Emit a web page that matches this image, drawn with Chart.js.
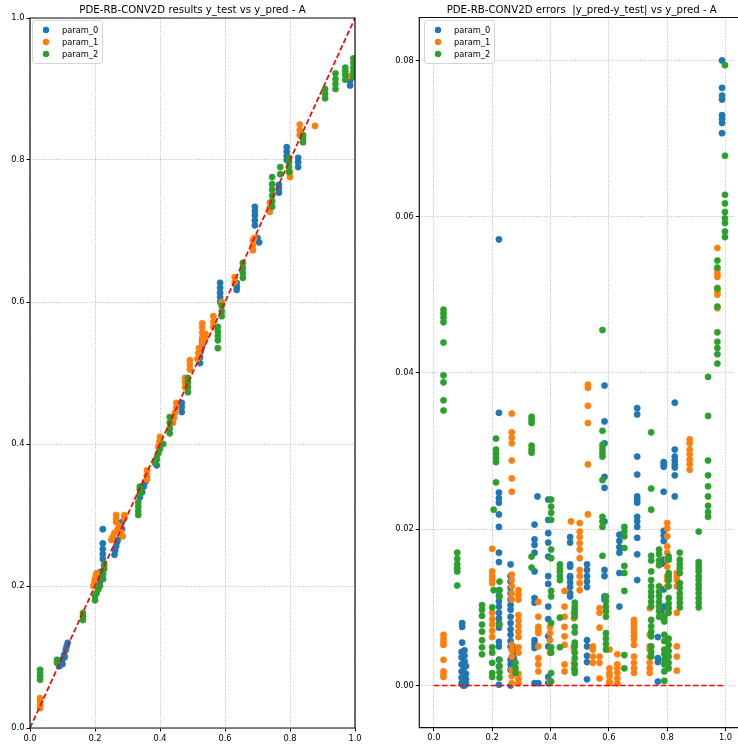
<!DOCTYPE html>
<html><head><meta charset="utf-8">
<script src="https://cdn.jsdelivr.net/npm/chart.js@4.4.0/dist/chart.umd.min.js"></script>
<style>
html,body{margin:0;padding:0;background:#fff;overflow:hidden;}
#w{position:relative;width:738px;height:747px;}
canvas{position:absolute;top:0;}
#c1{left:0;} #c2{left:369px;}
</style></head><body>
<div id="w"><canvas id="c1" width="369" height="747"></canvas><canvas id="c2" width="369" height="747"></canvas></div>
<script>
const seriesNames = ['param_0', 'param_1', 'param_2'];
const seriesColors = ['#1f77b4', '#ff7f0e', '#2ca02c'];
const titleLeft = 'PDE-RB-CONV2D results y_test vs y_pred - A';
const titleRight = 'PDE-RB-CONV2D errors  |y_pred-y_test| vs y_pred - A';
const unitTicks = [0, 0.2, 0.4, 0.6, 0.8, 1.0];
const errTicks = [0, 0.02, 0.04, 0.06, 0.08];
const identityLine = [[0, 0], [1, 1]];
const zeroLine = [[0, 0], [1, 0]];

// Left panel: [x, y] pairs
const pred0 = [[0.09,0.087],[0.095,0.092],[0.1,0.097],[0.105,0.103],[0.11,0.11],[0.113,0.115],[0.116,0.12],[0.1,0.09],[0.107,0.1],
 [0.215,0.205],[0.215,0.212],[0.218,0.22],[0.224,0.28],[0.224,0.26],[0.224,0.252],[0.224,0.245],[0.224,0.238],
 [0.26,0.244],[0.262,0.25],[0.265,0.256],[0.268,0.262],[0.27,0.265],[0.283,0.28],[0.283,0.29],
 [0.338,0.325],[0.345,0.332],[0.35,0.34],[0.355,0.347],[0.36,0.354],[0.39,0.37],[0.39,0.378],
 [0.467,0.445],[0.467,0.452],[0.467,0.458],[0.523,0.514],[0.523,0.522],[0.525,0.53],[0.53,0.538],[0.53,0.545],
 [0.585,0.6],[0.585,0.607],[0.585,0.613],[0.585,0.62],[0.585,0.627],[0.636,0.617],[0.636,0.622],[0.636,0.627],
 [0.692,0.708],[0.692,0.715],[0.692,0.722],[0.692,0.728],[0.692,0.734],[0.705,0.684],[0.7,0.69],
 [0.766,0.754],[0.766,0.76],[0.766,0.765],[0.79,0.8],[0.79,0.806],[0.79,0.812],[0.79,0.818],
 [0.825,0.79],[0.825,0.797],[0.825,0.803],[0.985,0.905],[0.985,0.912],[0.985,0.918]];
const pred1 = [[0.031,0.028],[0.031,0.033],[0.031,0.038],[0.031,0.042],
 [0.195,0.2],[0.198,0.205],[0.2,0.21],[0.203,0.215],[0.205,0.218],
 [0.25,0.265],[0.255,0.27],[0.26,0.275],[0.265,0.29],[0.265,0.295],[0.265,0.3],[0.27,0.28],[0.275,0.285],[0.28,0.276],[0.285,0.27],[0.29,0.3],[0.29,0.295],
 [0.36,0.35],[0.36,0.356],[0.36,0.363],[0.395,0.396],[0.398,0.403],[0.4,0.41],
 [0.44,0.43],[0.443,0.437],[0.446,0.444],[0.45,0.451],[0.45,0.458],[0.477,0.48],[0.477,0.487],[0.477,0.493],
 [0.492,0.505],[0.492,0.512],[0.492,0.518],[0.515,0.52],[0.518,0.528],[0.52,0.535],
 [0.53,0.542],[0.53,0.55],[0.53,0.557],[0.53,0.564],[0.53,0.57],[0.54,0.55],[0.54,0.555],
 [0.564,0.565],[0.564,0.572],[0.564,0.58],[0.59,0.595],[0.59,0.6],[0.63,0.628],[0.63,0.635],
 [0.686,0.673],[0.686,0.68],[0.686,0.687],[0.69,0.69],[0.738,0.727],[0.738,0.733],[0.738,0.74],
 [0.8,0.776],[0.8,0.783],[0.83,0.835],[0.83,0.842],[0.83,0.85],[0.877,0.848],[0.98,0.918]];
const pred2 = [[0.031,0.068],[0.031,0.073],[0.031,0.078],[0.031,0.082],[0.083,0.092],[0.083,0.096],
 [0.163,0.152],[0.163,0.157],[0.163,0.162],[0.2,0.18],[0.2,0.186],[0.205,0.19],[0.21,0.195],[0.215,0.2],
 [0.225,0.21],[0.225,0.217],[0.228,0.224],[0.228,0.23],[0.333,0.3],[0.333,0.306],[0.333,0.312],[0.333,0.318],
 [0.338,0.33],[0.338,0.336],[0.338,0.34],[0.385,0.373],[0.39,0.38],[0.395,0.387],[0.4,0.393],[0.41,0.4],
 [0.43,0.415],[0.43,0.422],[0.43,0.43],[0.43,0.438],[0.486,0.473],[0.486,0.48],[0.486,0.487],[0.486,0.493],
 [0.578,0.546],[0.578,0.552],[0.578,0.558],[0.578,0.565],[0.578,0.535],[0.59,0.58],[0.59,0.587],[0.59,0.595],
 [0.655,0.634],[0.655,0.641],[0.655,0.648],[0.655,0.655],
 [0.745,0.734],[0.745,0.742],[0.745,0.75],[0.745,0.758],[0.745,0.766],[0.745,0.776],[0.77,0.78],[0.77,0.79],
 [0.797,0.783],[0.797,0.79],[0.797,0.797],[0.797,0.803],[0.84,0.825],[0.84,0.83],[0.84,0.835],
 [0.908,0.887],[0.908,0.893],[0.908,0.9],[0.94,0.9],[0.94,0.907],[0.94,0.914],[0.94,0.922],
 [0.97,0.913],[0.97,0.92],[0.97,0.925],[0.97,0.93],[0.995,0.917],[0.995,0.924],[0.995,0.93],[0.995,0.937],[0.995,0.943]];

// Right panel: [x, [errors...]] columns
const err0 = [
 [0.097,[0.008,0.0075,0.0055]],
 [0.095,[0.0043,0.0036,0.0027,0.0018,0.001,0.0003]],
 [0.105,[0.0045,0.0038,0.0031,0.0023,0.0014,0.0006,0.0]],
 [0.11,[0.0025,0.0015,0.0008,0.0002]],
 [0.1,[0.0012,0.0004,0.0]],
 [0.223,[0.0571,0.0349,0.0247,0.024,0.0234,0.0219,0.0203,0.017,0.0158,0.0122,0.0115,0.0108,0.0101,0.0093,0.0086,0.008,0.0074,0.0056,0.005,0.0033,0.0024,0.0001]],
 [0.263,[0.0155,0.014,0.0133,0.0125,0.0118,0.011,0.0103,0.0097,0.0088,0.008,0.0072,0.0065,0.0057,0.005,0.0033,0.0027,0.002,0.0]],
 [0.274,[0.0049,0.0042,0.0035,0.0025]],
 [0.345,[0.0206,0.0187,0.018,0.017,0.0146,0.0112,0.0106,0.0058,0.0053,0.0048,0.0003]],
 [0.355,[0.0242]],
 [0.358,[0.0003]],
 [0.392,[0.0238,0.0212,0.0195,0.0183,0.0165,0.014,0.013,0.0101,0.0085,0.0063,0.005,0.0011,0.0003]],
 [0.467,[0.019,0.0183,0.0155,0.0152,0.014,0.0138,0.0132,0.0126,0.0118,0.0114]],
 [0.525,[0.0155,0.0148,0.014,0.0133,0.0126,0.0058,0.005,0.0038,0.003,0.0008]],
 [0.585,[0.0384,0.0338,0.031,0.0267,0.0253,0.021,0.0148,0.014,0.0114,0.011]],
 [0.636,[0.0193,0.0185,0.0177,0.017,0.0144,0.0101]],
 [0.697,[0.0355,0.0347,0.0293,0.027,0.0242,0.0238,0.0234,0.0216,0.021,0.0203,0.0189,0.0168,0.0135]],
 [0.768,[0.0062,0.0035,0.003,0.0005]],
 [0.788,[0.0286,0.0283,0.028,0.0248,0.0198,0.0192,0.0185,0.0161,0.0156,0.0123,0.0101,0.0095,0.0085]],
 [0.826,[0.0362,0.0302,0.0293,0.0288,0.0283,0.0279,0.0269,0.0242]],
 [0.988,[0.08,0.0765,0.0755,0.075,0.073,0.0725,0.072,0.0707]]
];
const err1 = [
 [0.033,[0.0065,0.006,0.0056,0.0052,0.0033,0.0018,0.0014,0.0011]],
 [0.2,[0.0175,0.0146,0.014,0.0135,0.0131,0.0093,0.0085,0.0078,0.007,0.0062]],
 [0.267,[0.0348,0.0324,0.0317,0.031,0.0288,0.0265,0.0248,0.0142,0.0135,0.0127,0.0118,0.011,0.0052,0.0045,0.0037,0.002,0.0012,0.0003]],
 [0.29,[0.0122,0.0116,0.011,0.009,0.0083,0.0076,0.0069,0.0062,0.0049,0.0042,0.0015,0.0008,0.0003]],
 [0.358,[0.0107,0.0088,0.0075,0.0071,0.0067,0.005,0.0035,0.0027,0.0018]],
 [0.398,[0.0075,0.0067,0.0058,0.0042,0.0005]],
 [0.448,[0.0121,0.0101,0.0088,0.0075,0.0063,0.0052,0.0027,0.0018]],
 [0.47,[0.021]],
 [0.48,[0.0093,0.0086,0.005,0.0046,0.0029,0.0022]],
 [0.5,[0.0208,0.0197,0.019,0.0182,0.0174,0.0163,0.0148,0.014,0.0131,0.0122]],
 [0.528,[0.0385,0.0381,0.0358,0.0336,0.0283,0.0219]],
 [0.545,[0.005,0.0046,0.0037,0.0029]],
 [0.568,[0.0099,0.0093,0.0074,0.0037,0.0029,0.0009]],
 [0.602,[0.0046,0.0022,0.0016,0.0012,0.0005,0.0003]],
 [0.629,[0.004,0.0027,0.0022,0.0016,0.0009,0.0003]],
 [0.686,[0.0084,0.008,0.0076,0.0072,0.0068,0.0063,0.0059,0.0052,0.0037,0.0029,0.0022,0.0016]],
 [0.74,[0.0099,0.0065,0.005,0.0046,0.0037,0.0029,0.0022,0.0016]],
 [0.8,[0.0208,0.0201,0.0191,0.0178,0.017,0.0161,0.0152,0.014,0.0135,0.0127,0.0093]],
 [0.833,[0.0144,0.014,0.0135,0.0127,0.0093,0.005,0.0037,0.0019]],
 [0.877,[0.0315,0.031,0.0302,0.0296,0.0289,0.0283,0.0276]],
 [0.972,[0.056,0.0532,0.0527,0.0523,0.0509,0.0504,0.05,0.0483]]
];
const err2 = [
 [0.033,[0.0481,0.0476,0.0471,0.0465,0.0439,0.0397,0.0388,0.0365,0.0352]],
 [0.08,[0.017,0.0162,0.0155,0.015,0.0146,0.0128]],
 [0.165,[0.0103,0.0097,0.0089,0.0078,0.0069,0.0058,0.0049,0.004]],
 [0.2,[0.01,0.0049,0.0042,0.0029,0.0016,0.0011]],
 [0.205,[0.0225,0.0122]],
 [0.213,[0.0316,0.0302,0.0297,0.0291,0.0286,0.026]],
 [0.225,[0.0133,0.0122,0.0114,0.0078,0.0033,0.0025,0.0017,0.001]],
 [0.28,[0.0029,0.0022,0.0016]],
 [0.335,[0.0344,0.034,0.0336,0.0307,0.0302,0.0298,0.0165,0.0151]],
 [0.402,[0.0238,0.0229,0.0221,0.0212,0.0174,0.0163,0.0121,0.0114,0.008,0.0049,0.0042,0.0016,0.0005]],
 [0.432,[0.0155,0.015,0.0146,0.014,0.0135,0.0087,0.0049]],
 [0.483,[0.0106,0.0101,0.0097,0.0092,0.0088,0.0075,0.0068,0.0055,0.005,0.0042,0.0035,0.0027,0.002,0.0016]],
 [0.578,[0.0455,0.0326,0.0308,0.0303,0.0298,0.0293,0.0263,0.0216,0.021,0.0203,0.0166]],
 [0.59,[0.0114,0.0108,0.0101,0.0095,0.0088,0.0067,0.006,0.0053,0.0046]],
 [0.653,[0.0203,0.0197,0.0191,0.0176,0.0153,0.0144,0.0121,0.0039,0.0022]],
 [0.745,[0.0324,0.0252,0.0225,0.0166,0.016,0.0146,0.0135,0.0127,0.012,0.0114,0.0107,0.0101,0.0084,0.0076,0.0069,0.0063,0.005,0.0043,0.0037]],
 [0.772,[0.0174,0.0168,0.016,0.0154,0.0127,0.012,0.0114,0.0107,0.0101,0.0095,0.0088]],
 [0.79,[0.0088,0.0082,0.0065,0.0057,0.0046,0.004,0.0033,0.0027,0.0018,0.0006]],
 [0.805,[0.0165,0.0161,0.0144,0.014,0.0135,0.0127,0.0112,0.0105,0.0099,0.0093,0.006,0.0052,0.0044,0.0037,0.0029,0.0022]],
 [0.843,[0.017,0.0161,0.0155,0.015,0.0144,0.0131,0.0125,0.0118,0.0112,0.0106,0.01]],
 [0.908,[0.0197,0.0158,0.0154,0.015,0.0146,0.014,0.0135,0.0129,0.0124,0.0118,0.0112,0.0106,0.01]],
 [0.94,[0.0395,0.0345,0.0288,0.0269,0.0255,0.0242,0.023,0.0222,0.0216]],
 [0.972,[0.0544,0.0535,0.0508,0.0485,0.0452,0.044,0.0432,0.0424,0.0412]],
 [0.998,[0.0794,0.0678,0.0628,0.0617,0.0606,0.0598,0.0592,0.0581,0.0574]]
];

const pairs = a => a.map(([x, y]) => ({x, y}));
const cols = c => c.flatMap(([x, ys]) => ys.map(y => ({x, y})));

const FONT = '"DejaVu Sans", sans-serif';

const decor = {
  id: 'decor',
  afterDatasetsDraw(chart, args, o) {
    const {ctx, chartArea: a} = chart;
    ctx.save();
    ctx.strokeStyle = '#111';
    ctx.lineWidth = 1.2;
    ctx.beginPath();
    if (o.full) {
      ctx.rect(a.left, a.top, a.right - a.left, a.bottom - a.top);
    } else {
      ctx.moveTo(a.right + 5, a.top); ctx.lineTo(a.left, a.top);
      ctx.lineTo(a.left, a.bottom); ctx.lineTo(a.right + 5, a.bottom);
    }
    ctx.stroke();
    ctx.restore();
  },
  afterDraw(chart, args, o) {
    const ctx = chart.ctx;
    ctx.save();
    ctx.fillStyle = '#000';
    ctx.font = '10.2px ' + FONT;
    ctx.textAlign = 'center';
    ctx.textBaseline = 'middle';
    ctx.fillText(o.title, o.titleX, 10);
    // legend
    const lx = o.legendX, ly = 20, lw = 70, lh = 43;
    ctx.beginPath();
    ctx.roundRect(lx + 0.5, ly + 0.5, lw, lh, 2.5);
    ctx.fillStyle = 'rgba(255,255,255,0.8)';
    ctx.fill();
    ctx.strokeStyle = '#cccccc';
    ctx.lineWidth = 0.8;
    ctx.stroke();
    ctx.font = '8.3px ' + FONT;
    ctx.textAlign = 'left';
    for (let i = 0; i < seriesNames.length; i++) {
      const yy = ly + 10 + i * 12;
      ctx.beginPath();
      ctx.arc(lx + 14, yy, 3.2, 0, Math.PI * 2);
      ctx.fillStyle = seriesColors[i];
      ctx.fill();
      ctx.fillStyle = '#000';
      ctx.fillText(seriesNames[i], lx + 30, yy + 0.5);
    }
    ctx.restore();
  }
};

function scatterSets(d0, d1, d2, line) {
  const ds = [d0, d1, d2].map((d, i) => ({
    label: seriesNames[i], data: d,
    backgroundColor: seriesColors[i], borderColor: seriesColors[i],
    pointRadius: 3.1, pointBorderWidth: 0.6, pointHoverRadius: 3.1,
    order: 3 - i
  }));
  ds.push({
    label: 'ref', type: 'line', data: line, showLine: true,
    borderColor: '#ff0000', borderWidth: 1.7, borderDash: [5.5, 2.6],
    pointRadius: 0, fill: false, order: 0
  });
  return ds;
}

function axis(min, max, ticks, digits, fixSize, isX) {
  return {
    type: 'linear', min, max,
    afterBuildTicks: s => { s.ticks = ticks.map(v => ({value: v})); },
    afterFit: s => {
      if (isX) s.height = fixSize; else s.width = fixSize;
      s.paddingLeft = s.paddingRight = s.paddingTop = s.paddingBottom = 0;
    },
    ticks: {
      callback: v => Number(v).toFixed(digits),
      font: {family: FONT, size: 8.3}, color: '#000',
      padding: 2, autoSkip: false, maxRotation: 0, minRotation: 0
    },
    grid: {
      color: '#a8a8a8', lineWidth: 0.8, drawTicks: true,
      tickLength: 3.5, tickColor: '#000', tickWidth: 1
    },
    border: {display: false, dash: [1, 1.6]}
  };
}

const base = {
  animation: false, responsive: false, devicePixelRatio: 1,
  plugins: {legend: {display: false}, tooltip: {enabled: false}}
};

new Chart(document.getElementById('c1'), {
  type: 'scatter',
  data: {datasets: scatterSets(pairs(pred0), pairs(pred1), pairs(pred2), pairs(identityLine))},
  options: Object.assign({}, base, {
    layout: {padding: {left: 0, top: 18, right: 14, bottom: 0}},
    scales: {
      x: axis(0, 1, unitTicks, 1, 19, true),
      y: axis(0, 1, unitTicks, 1, 30, false)
    },
    plugins: Object.assign({}, base.plugins, {
      decor: {full: true, title: titleLeft, titleX: 192.5, legendX: 32}
    })
  }),
  plugins: [decor]
});

new Chart(document.getElementById('c2'), {
  type: 'scatter',
  data: {datasets: scatterSets(cols(err0), cols(err1), cols(err2), pairs(zeroLine))},
  options: Object.assign({}, base, {
    layout: {padding: {left: 0, top: 17.5, right: 0, bottom: 0}},
    scales: {
      x: axis(-0.05, 1.03, unitTicks, 1, 19.3, true),
      y: axis(-0.0054, 0.0855, errTicks, 2, 50.3, false)
    },
    plugins: Object.assign({}, base.plugins, {
      decor: {full: false, title: titleRight, titleX: 212.7, legendX: 55}
    })
  }),
  plugins: [decor]
});
</script>
</body></html>
